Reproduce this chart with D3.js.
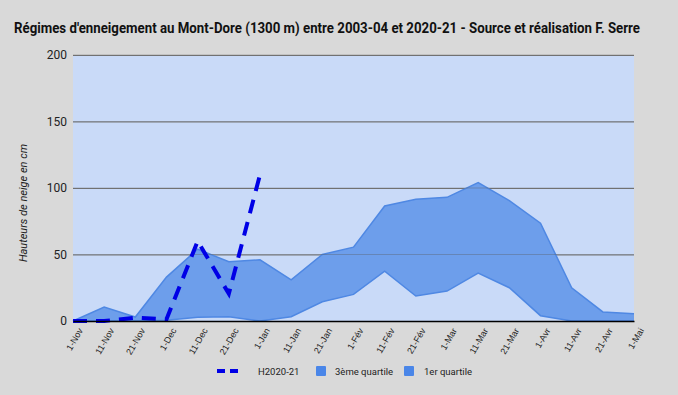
<!DOCTYPE html>
<html>
<head>
<meta charset="utf-8">
<script src="https://cdn.jsdelivr.net/npm/d3@7"></script>
<style>
  body { margin: 0; background: #d9d9d9; }
  svg { display: block; font-family: Roboto, "Liberation Sans", Arial, sans-serif; }
</style>
</head>
<body>
<div id="chart"></div>
<script>
// Data
const dates = ['1-Nov', '11-Nov', '21-Nov', '1-Dec', '11-Dec', '21-Dec', '1-Jan', '11-Jan', '21-Jan',
  '1-Fév', '11-Fév', '21-Fév', '1-Mar', '11-Mar', '21-Mar', '1-Avr', '11-Avr', '21-Avr', '1-Mai'];
const q3 = [0, 10.5, 3, 33, 54, 44.5, 46, 31, 50, 55.5, 86.5, 91.5, 93, 104, 90.5, 73.5, 25, 6.8, 5.5];
const q1 = [0, 0, 0, 0.5, 2.8, 3.2, 0, 3.2, 14.5, 20, 37.5, 18.8, 22.5, 36, 25, 4, 0, 0, 0];
const h2021 = [0, 0, 2.5, 1.3, 60, 20.5, 110];
const yTicks = [0, 50, 100, 150, 200];

// Dimensions
const W = 678, H = 395;
const margin = {top: 55, right: 44, bottom: 74, left: 73};
const width = W - margin.left - margin.right;
const height = H - margin.top - margin.bottom;

const svg = d3.select('#chart').append('svg')
  .attr('width', W).attr('height', H);

svg.append('rect').attr('width', W).attr('height', H).attr('fill', '#d9d9d9');

// Title
svg.append('text')
  .attr('x', 14).attr('y', 33)
  .attr('textLength', 626).attr('lengthAdjust', 'spacingAndGlyphs')
  .style('font-size', '14px').style('font-weight', 'bold').style('fill', '#111')
  .text("Régimes d'enneigement au Mont-Dore (1300 m) entre 2003-04 et 2020-21 - Source et réalisation F. Serre");

const g = svg.append('g').attr('transform', `translate(${margin.left},${margin.top})`);

// Scales
const x = d3.scalePoint().domain(dates).range([0, width]);
const y = d3.scaleLinear().domain([0, 200]).range([height, 0]);

// Plot background
g.append('rect').attr('width', width).attr('height', height).attr('fill', '#c9daf8');

// Grid + y axis
const yAxis = d3.axisLeft(y).tickValues(yTicks).tickSize(-width).tickPadding(6);
g.append('g').call(yAxis)
  .call(a => a.select('.domain').remove())
  .call(a => a.selectAll('.tick line').attr('stroke', '#777').attr('stroke-width', 1.2))
  .call(a => a.selectAll('.tick text').style('font-size', '12px').style('fill', '#222')
    .style('font-family', 'Roboto, sans-serif'));

// Areas
const area = vals => d3.area()
  .x((d, i) => x(dates[i]))
  .y0(y(0))
  .y1(d => y(d))(vals);
const line = vals => d3.line()
  .x((d, i) => x(dates[i]))
  .y(d => y(d))(vals);

g.append('path').attr('d', area(q3)).attr('fill', '#6d9eeb');
g.append('path').attr('d', area(q1)).attr('fill', '#c9daf8');
g.append('path').attr('d', line(q3)).attr('fill', 'none').attr('stroke', '#4f88e3').attr('stroke-width', 1.5);
g.append('path').attr('d', line(q1)).attr('fill', 'none').attr('stroke', '#4f88e3').attr('stroke-width', 1.5);

// Gridlines inside area are still visible faintly
g.append('g').selectAll('line').data(yTicks.filter(d => d > 0)).join('line')
  .attr('x1', 0).attr('x2', width).attr('y1', d => y(d)).attr('y2', d => y(d))
  .attr('stroke', '#555').attr('stroke-opacity', 0.35).attr('stroke-width', 1);

// Dashed series
g.append('path').attr('d', line(h2021)).attr('fill', 'none')
  .attr('stroke', '#0000e6').attr('stroke-width', 4).attr('stroke-dasharray', '14,9');

// X axis
const xAxis = d3.axisBottom(x).tickSize(0).tickPadding(4);
g.append('g').attr('transform', `translate(0,${height})`).call(xAxis)
  .call(a => a.select('.domain').attr('stroke', '#000').attr('stroke-width', 1.5))
  .call(a => a.selectAll('.tick text')
    .style('font-size', '9px').style('fill', '#222')
    .attr('text-anchor', 'end')
    .attr('dy', '0.35em').attr('dx', '-0.1em')
    .attr('transform', 'translate(4,5) rotate(-60)'));

// Y axis title
svg.append('text')
  .attr('transform', 'translate(27,203) rotate(-90)')
  .attr('text-anchor', 'middle')
  .style('font-size', '11px').style('font-style', 'italic').style('fill', '#222')
  .text('Hauteurs de neige en cm');

// Legend
const leg = svg.append('g').attr('transform', 'translate(0,371)');
leg.append('line').attr('x1', 217).attr('x2', 243).attr('y1', 0).attr('y2', 0)
  .attr('stroke', '#0000e6').attr('stroke-width', 4).attr('stroke-dasharray', '8,5');
leg.append('text').attr('x', 258).attr('y', 3.5).style('font-size', '9.5px').style('fill', '#222').text('H2020-21');
leg.append('rect').attr('x', 316).attr('y', -5).attr('width', 10).attr('height', 10).attr('rx', 1).attr('fill', '#4a86e8');
leg.append('text').attr('x', 335).attr('y', 3.5).style('font-size', '9.5px').style('fill', '#222').text('3ème quartile');
leg.append('rect').attr('x', 404).attr('y', -5).attr('width', 10).attr('height', 10).attr('rx', 1).attr('fill', '#4a86e8');
leg.append('text').attr('x', 424).attr('y', 3.5).style('font-size', '9.5px').style('fill', '#222').text('1er quartile');
</script>
</body>
</html>
